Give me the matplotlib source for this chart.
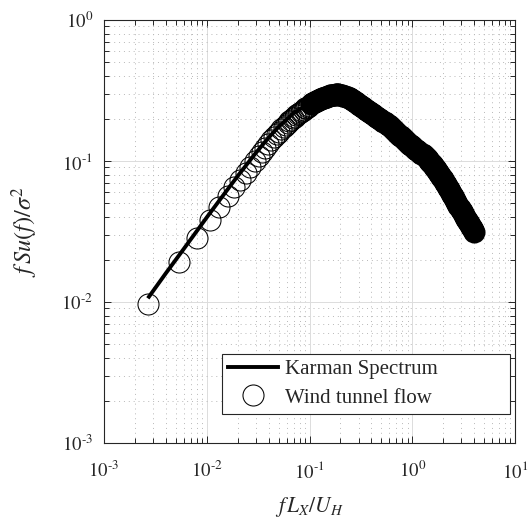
import numpy as np
import matplotlib
matplotlib.use('Agg')
import matplotlib.pyplot as plt
from matplotlib.ticker import LogLocator, NullFormatter, FuncFormatter

# ---------------- data ----------------
# Karman spectrum curve (f*L/U, f*S/sigma^2)
karman_f = [0.00274, 0.004, 0.006, 0.01, 0.015, 0.02, 0.03, 0.04, 0.05, 0.07,
            0.1, 0.146, 0.2, 0.3, 0.5, 1.0, 2.0, 3.0]
karman_S = [0.0109, 0.016, 0.0239, 0.0398, 0.0592, 0.0782, 0.114, 0.1463, 0.1746, 0.2185,
            0.2561, 0.2714, 0.2612, 0.2271, 0.1742, 0.1136, 0.0723, 0.0552]

# Wind tunnel flow: first frequency bins (individually visible circles)
wt_f_low = [0.00266, 0.00532, 0.00798, 0.01064, 0.0133, 0.01596, 0.01862, 0.02128, 0.02394, 0.0266,
            0.02926, 0.03192, 0.03458, 0.03724, 0.0399, 0.04256, 0.04522, 0.04788, 0.05054, 0.0532,
            0.05586, 0.05852, 0.06118, 0.06384, 0.0665, 0.06916, 0.07182, 0.07448, 0.07714, 0.0798,
            0.08246, 0.08512, 0.08778, 0.09044, 0.0931, 0.09576, 0.09842]
wt_S_low = [0.0096, 0.0192, 0.0286, 0.0379, 0.0471, 0.0562, 0.0650, 0.0736, 0.0824, 0.0912,
            0.0998, 0.1082, 0.1165, 0.1244, 0.1321, 0.1400, 0.1474, 0.1547, 0.1612, 0.1676,
            0.1743, 0.1802, 0.1860, 0.1915, 0.1968, 0.2019, 0.2068, 0.2115, 0.2160, 0.2202,
            0.2243, 0.2281, 0.2317, 0.2361, 0.2393, 0.2432, 0.2470]

# Wind tunnel flow: dense part of the band, read in decades (log10) off the log axes
wt_log_f_high = [
    -0.99, -0.98, -0.97, -0.96, -0.95, -0.94, -0.93, -0.92, -0.91, -0.90,
    -0.89, -0.88, -0.87, -0.86, -0.85, -0.84, -0.83, -0.82, -0.81, -0.80,
    -0.79, -0.78, -0.77, -0.76, -0.75, -0.74, -0.73, -0.72, -0.71, -0.70,
    -0.69, -0.68, -0.67, -0.66, -0.65, -0.64, -0.63, -0.62, -0.61, -0.60,
    -0.59, -0.58, -0.57, -0.56, -0.55, -0.54, -0.53, -0.52, -0.51, -0.50,
    -0.49, -0.48, -0.47, -0.46, -0.45, -0.44, -0.43, -0.42, -0.41, -0.40,
    -0.39, -0.38, -0.37, -0.36, -0.35, -0.34, -0.33, -0.32, -0.31, -0.30,
    -0.29, -0.28, -0.27, -0.26, -0.25, -0.24, -0.23, -0.22, -0.21, -0.20,
    -0.19, -0.18, -0.17, -0.16, -0.15, -0.14, -0.13, -0.12, -0.11, -0.10,
    -0.09, -0.08, -0.07, -0.06, -0.05, -0.04, -0.03, -0.02, -0.01, 0.00,
    0.01, 0.02, 0.03, 0.04, 0.05, 0.06, 0.07, 0.08, 0.09, 0.10,
    0.11, 0.12, 0.13, 0.14, 0.15, 0.16, 0.17, 0.18, 0.19, 0.20,
    0.21, 0.22, 0.23, 0.24, 0.25, 0.26, 0.27, 0.28, 0.29, 0.30,
    0.31, 0.32, 0.33, 0.34, 0.35, 0.36, 0.37, 0.38, 0.39, 0.40,
    0.41, 0.42, 0.43, 0.44, 0.45, 0.46, 0.47, 0.48, 0.49, 0.50,
    0.51, 0.52, 0.53, 0.54, 0.55, 0.56, 0.57, 0.58, 0.59, 0.60]
wt_log_S_high = [
    -0.596, -0.592, -0.588, -0.584, -0.580, -0.576, -0.572, -0.568, -0.564, -0.560,
    -0.558, -0.555, -0.553, -0.550, -0.548, -0.545, -0.543, -0.540, -0.538, -0.535,
    -0.533, -0.532, -0.531, -0.530, -0.529, -0.528, -0.528, -0.528, -0.529, -0.530,
    -0.532, -0.534, -0.536, -0.538, -0.541, -0.544, -0.548, -0.552, -0.556, -0.561,
    -0.566, -0.570, -0.575, -0.580, -0.585, -0.590, -0.595, -0.600, -0.605, -0.610,
    -0.615, -0.620, -0.625, -0.630, -0.635, -0.640, -0.645, -0.650, -0.655, -0.660,
    -0.665, -0.670, -0.675, -0.680, -0.685, -0.690, -0.695, -0.700, -0.705, -0.710,
    -0.715, -0.720, -0.725, -0.730, -0.735, -0.742, -0.748, -0.755, -0.761, -0.768,
    -0.774, -0.781, -0.787, -0.794, -0.800, -0.807, -0.813, -0.820, -0.826, -0.833,
    -0.839, -0.846, -0.852, -0.859, -0.865, -0.871, -0.877, -0.883, -0.889, -0.895,
    -0.901, -0.907, -0.913, -0.919, -0.925, -0.931, -0.936, -0.942, -0.948, -0.953,
    -0.959, -0.965, -0.973, -0.981, -0.989, -0.998, -1.006, -1.014, -1.022, -1.030,
    -1.040, -1.050, -1.060, -1.070, -1.080, -1.090, -1.100, -1.110, -1.120, -1.130,
    -1.142, -1.154, -1.166, -1.178, -1.190, -1.202, -1.214, -1.226, -1.238, -1.250,
    -1.264, -1.277, -1.291, -1.304, -1.318, -1.331, -1.345, -1.358, -1.372, -1.385,
    -1.397, -1.408, -1.420, -1.431, -1.443, -1.454, -1.466, -1.477, -1.489, -1.500]

x_limits = [1e-3, 1e1]
y_limits = [1e-3, 1e0]
legend_labels = ['Karman Spectrum', 'Wind tunnel flow']
x_label = r'$f\,L_X/U_H$'
y_label = r'$f\,Su(f)/\sigma^2$'

# ---------------- styling ----------------
plt.rcParams['font.family'] = ['Liberation Serif', 'DejaVu Serif']
plt.rcParams['mathtext.fontset'] = 'stix'
dark = '#262626'

fig = plt.figure(figsize=(5.30, 5.25), dpi=100)
ax = fig.add_axes([104 / 530, 1 - 443 / 525, 411 / 530, 423 / 525])

band_f = 10.0 ** np.array(wt_log_f_high)
band_S = 10.0 ** np.array(wt_log_S_high)

outer_pt = 15.9  # outer marker diameter in points
ax.plot(karman_f, karman_S, color='black', lw=2.8, label=legend_labels[0], zorder=3)
ax.plot(wt_f_low, wt_S_low, linestyle='none', marker='o', markersize=outer_pt - 0.75,
        markerfacecolor='none', markeredgecolor='black', markeredgewidth=0.75,
        label=legend_labels[1], zorder=4)
# densely packed bins merge into a solid band
ax.plot(band_f, band_S, linestyle='none', marker='o', markersize=outer_pt - 2.6,
        markerfacecolor='none', markeredgecolor='black', markeredgewidth=2.6, zorder=4)

ax.set_xscale('log')
ax.set_yscale('log')
ax.set_xlim(x_limits)
ax.set_ylim(y_limits)


def pow10(v, pos):
    e = int(round(np.log10(v)))
    if e < 0:
        return r'$10^{\text{-}%d}$' % (-e)
    return r'$10^{%d}$' % e


for axis in (ax.xaxis, ax.yaxis):
    axis.set_major_locator(LogLocator(base=10, numticks=10))
    axis.set_minor_locator(LogLocator(base=10, subs=np.arange(2, 10), numticks=50))
    axis.set_minor_formatter(NullFormatter())
    axis.set_major_formatter(FuncFormatter(pow10))

ax.grid(True, which='major', color='#dcdcdc', lw=0.7, linestyle='-')
ax.grid(True, which='minor', color='#b8b8b8', lw=0.7, linestyle=(0, (1, 4)))
ax.set_axisbelow(True)

ax.tick_params(which='both', direction='in', top=True, right=True, colors=dark,
               labelcolor=dark, width=0.7)
ax.tick_params(which='major', length=5, labelsize=13.5)
ax.tick_params(axis='y', which='major', pad=8)
ax.tick_params(axis='x', which='major', pad=13)
ax.tick_params(which='minor', length=3.5)
for s in ax.spines.values():
    s.set_color(dark)
    s.set_linewidth(0.8)

ax.set_xlabel(x_label, fontsize=15.5, color=dark, labelpad=9)
ax.set_ylabel(y_label, fontsize=17.5, color=dark, labelpad=15)

leg = ax.legend(loc='lower left', mode='expand',
                bbox_to_anchor=(118 / 411, 29 / 423, 288 / 411, 62 / 423), borderaxespad=0,
                fontsize=15, fancybox=False, framealpha=1, edgecolor=dark,
                handlelength=2.4, handletextpad=0.32, labelspacing=0.42, borderpad=0.3)
leg.get_frame().set_linewidth(0.8)
for t in leg.get_texts():
    t.set_color(dark)

fig.savefig('out.png', dpi=100)
